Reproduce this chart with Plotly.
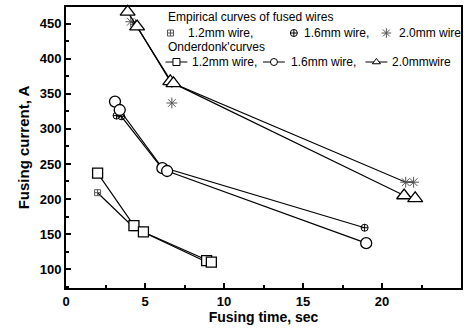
import plotly.graph_objects as go

# ---- data ----
# Onderdonk curves (lines + open markers)
on12_x = [2.0, 4.3, 4.9, 8.9, 9.2]
on12_y = [237, 162, 153, 112, 110]
on16_x = [3.1, 3.4, 6.1, 6.4, 19.0]
on16_y = [339, 327, 244, 240, 137]
on20_x = [3.9, 4.5, 6.6, 6.8, 21.4, 22.1]
on20_y = [467, 446, 368, 365, 205, 201]

# Empirical curves of fused wires
em12_x = [2.0, 4.3, 9.0]
em12_y = [209, 159, 109]
em16_x = [3.2, 3.5, 6.0, 18.9]
em16_y = [319, 318, 246, 159]
em20_x = [4.1, 4.4, 6.7, 21.5, 22.0]
em20_y = [453, 449, 366, 224, 224]
em20_extra_x = [6.7]
em20_extra_y = [337]

x_ticks = [0, 5, 10, 15, 20, 25]
y_ticks = [100, 150, 200, 250, 300, 350, 400, 450]

FONT = "Liberation Sans, Arial, Helvetica, sans-serif"
BLK = "black"
GRY = "#555555"

fig = go.Figure()

def emp_trace(x, y, symbol, size, mcolor, mode="lines+markers"):
    return go.Scatter(x=x, y=y, mode=mode,
                      line=dict(color=BLK, width=1.2),
                      marker=dict(symbol=symbol, size=size, color=mcolor, line=dict(width=1)),
                      showlegend=False, cliponaxis=False)

def ond_trace(x, y, symbol, size):
    return go.Scatter(x=x, y=y, mode="lines+markers",
                      line=dict(color=BLK, width=1.2),
                      marker=dict(symbol=symbol, size=size, color="white",
                                  line=dict(color=BLK, width=1.3)),
                      showlegend=False, cliponaxis=False)

# empirical first
fig.add_trace(emp_trace(em12_x, em12_y, "square-cross-open", 6, GRY))
fig.add_trace(emp_trace(em16_x, em16_y, "circle-cross-open", 7, BLK))
fig.add_trace(emp_trace(em20_x, em20_y, "asterisk-open", 9, GRY))
fig.add_trace(emp_trace(em20_extra_x, em20_extra_y, "asterisk-open", 9, GRY, mode="markers"))
# Onderdonk
fig.add_trace(ond_trace(on12_x, on12_y, "square", 10))
fig.add_trace(ond_trace(on16_x, on16_y, "circle", 11))
fig.add_trace(ond_trace(on20_x, on20_y, "triangle-up", 13))

# ---- legend drawn in an overlay axis (fractions of plot area) ----
L, R, T, B = 66, 463, 7, 288
def fx(px): return (px - L) / (R - L)
def fy(py): return (B - py) / (B - T)

leg_sym = [("square-cross-open", 171, GRY, 6), ("circle-cross-open", 295, BLK, 7), ("asterisk-open", 388, GRY, 8)]
for sym, px, c, s in leg_sym:
    fig.add_trace(go.Scatter(x=[fx(px)], y=[fy(33)], mode="markers", xaxis="x2", yaxis="y2",
                             marker=dict(symbol=sym, size=s, color=c, line=dict(width=1)),
                             showlegend=False, cliponaxis=False, hoverinfo="skip"))
leg_line = [("square", 166, 188), ("circle", 264, 286), ("triangle-up", 367, 389)]
for sym, a, b in leg_line:
    fig.add_trace(go.Scatter(x=[fx(a), fx(b)], y=[fy(62), fy(62)], mode="lines", xaxis="x2", yaxis="y2",
                             line=dict(color=BLK, width=1), showlegend=False, hoverinfo="skip", cliponaxis=False))
    fig.add_trace(go.Scatter(x=[fx((a + b) / 2)], y=[fy(62)], mode="markers", xaxis="x2", yaxis="y2",
                             marker=dict(symbol=sym, size=7, color="white", line=dict(color=BLK, width=1)),
                             showlegend=False, hoverinfo="skip", cliponaxis=False))

ann = [
    ("Empirical curves of fused wires", 167, 17),
    ("1.2mm wire,", 187, 33), ("1.6mm wire,", 303, 33), ("2.0mm wire", 399, 33),
    ("Onderdonk'curves", 167, 47),
    ("1.2mm wire,", 191, 62), ("1.6mm wire,", 290, 62), ("2.0mmwire", 392, 62),
]
for txt, px, py in ann:
    fig.add_annotation(text=txt, x=fx(px), y=fy(py), xref="paper", yref="paper",
                       xanchor="left", yanchor="middle", showarrow=False,
                       font=dict(family=FONT, size=12, color=BLK))

axis_common = dict(showline=True, linecolor=BLK, linewidth=2, mirror=True, showgrid=False,
                   zeroline=False, ticks="inside", ticklen=5, tickwidth=1.5, tickcolor=BLK,
                   tickfont=dict(family=FONT, size=13, color=BLK, weight="bold"))

fig.update_layout(
    width=468, height=332,
    margin=dict(l=L, r=468 - R, t=T, b=332 - B),
    paper_bgcolor="white", plot_bgcolor="white",
    xaxis=dict(range=[0, 25], tickvals=x_ticks,
               minor=dict(ticks="inside", dtick=2.5, ticklen=3, tickcolor=BLK),
               title=dict(text="Fusing time, sec", standoff=4,
                          font=dict(family=FONT, size=14, color=BLK, weight="bold")),
               **axis_common),
    yaxis=dict(range=[73, 474], tickvals=y_ticks,
               minor=dict(ticks="inside", dtick=25, ticklen=3, tickcolor=BLK),
               title=dict(text="Fusing current, A", standoff=6,
                          font=dict(family=FONT, size=15, color=BLK, weight="bold")),
               **axis_common),
    xaxis2=dict(overlaying="x", anchor="y2", range=[0, 1], visible=False, fixedrange=True),
    yaxis2=dict(overlaying="y", anchor="x2", range=[0, 1], visible=False, fixedrange=True),
    showlegend=False,
)

fig.write_html("out.html")
